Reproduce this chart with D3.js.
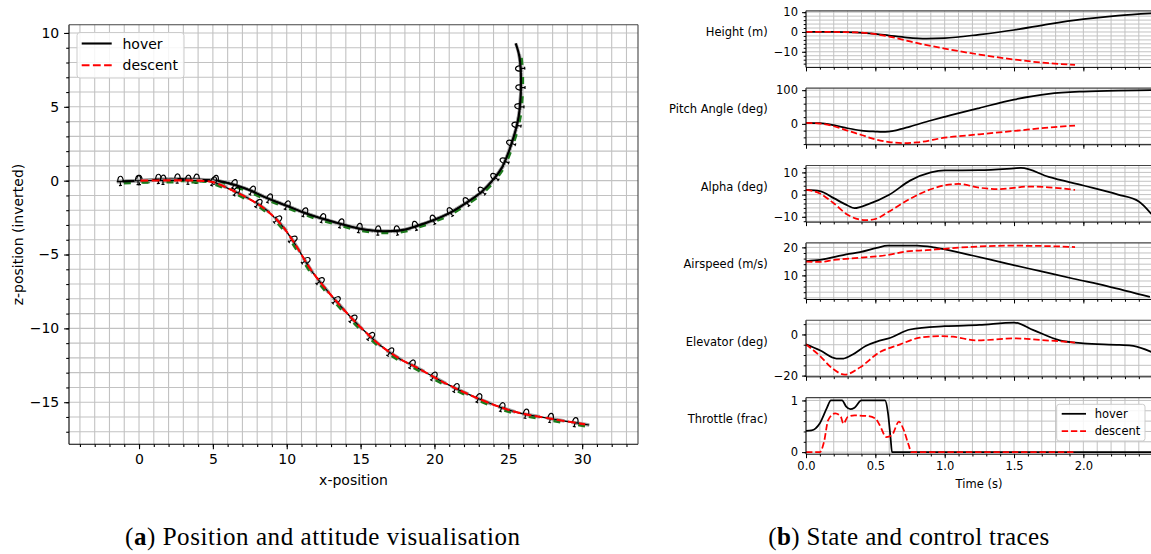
<!DOCTYPE html>
<html><head><meta charset="utf-8">
<script src="https://cdn.jsdelivr.net/npm/d3@7/dist/d3.min.js"></script>
<style>
body{margin:0;background:#fff}
svg{display:block}
text{font-family:"DejaVu Sans",sans-serif;fill:#000}
</style>
</head><body>
<svg id="c" width="1151" height="554"></svg>
<script>
// ---------------- DATA ----------------
const seriesNames = ["hover", "descent"];

// trajectory (x-position, z-position inverted)
const hoverPath = [[-1.1,-0.05],[0,0.0],[2,0.1],[4,0.08],[5.5,-0.05],[6.5,-0.3],[7.5,-0.65],[8.6,-1.15],[10,-1.7],[11,-2.1],[12,-2.45],[13.2,-2.8],[14.5,-3.15],[15.5,-3.34],[16.5,-3.42],[17.8,-3.35],[18.7,-3.1],[20,-2.65],[21,-2.2],[22,-1.6],[23.2,-0.75],[24,0.1],[24.6,0.95],[25.3,2.76],[25.7,4.34],[25.86,6.6],[25.75,8.4],[25.5,9.3]];
const descentPath = [[0.1,0.0],[2,0.02],[4,0.0],[5,-0.1],[6.2,-0.6],[7.3,-1.15],[8.5,-1.9],[9.6,-2.95],[10.5,-4.2],[11.65,-6.05],[12.7,-7.4],[13.9,-8.77],[15.07,-10.0],[16.4,-11.2],[17.8,-12.15],[18.7,-12.6],[21,-13.85],[23.25,-14.87],[25.5,-15.66],[27.8,-16.1],[30.2,-16.5]];

// time traces: [time (s), value]
const heightHover = [[0,0],[0.2,0],[0.35,-0.2],[0.5,-1.0],[0.6,-1.8],[0.73,-2.8],[0.87,-3.3],[1.0,-3.1],[1.25,-1.3],[1.5,1.0],[1.75,4.0],[2.0,6.5],[2.25,8.3],[2.49,9.4]];
const heightDescent = [[0,0],[0.2,0],[0.35,-0.2],[0.45,-0.6],[0.5,-1.1],[0.6,-2.3],[0.75,-4.8],[1.0,-8.4],[1.25,-11.4],[1.5,-13.9],[1.75,-15.8],[1.94,-16.6]];
const pitchHover = [[0,3],[0.1,2],[0.2,-4],[0.3,-13],[0.4,-20],[0.5,-23],[0.55,-24],[0.65,-19],[0.75,-8],[0.9,10],[1.0,21],[1.25,47],[1.5,72],[1.75,89],[2.0,96],[2.25,99],[2.49,100]];
const pitchDescent = [[0,3],[0.1,1],[0.2,-7],[0.3,-20],[0.4,-33],[0.5,-46],[0.6,-54],[0.7,-57],[0.8,-55],[1.0,-41],[1.25,-31],[1.5,-21],[1.75,-11],[1.94,-5]];
const alphaHover = [[0,2.1],[0.1,1.6],[0.2,-1.6],[0.3,-4.9],[0.35,-6.1],[0.45,-4.3],[0.6,-0.1],[0.75,6.3],[0.9,10],[1.0,10.9],[1.25,11.0],[1.5,11.8],[1.55,12],[1.75,8],[2.0,4.1],[2.25,0.0],[2.4,-3.1],[2.49,-8.7]];
const alphaDescent = [[0,2.1],[0.1,0.5],[0.2,-3.9],[0.3,-9.1],[0.43,-11.5],[0.5,-11],[0.6,-7.6],[0.75,-1.9],[0.9,2.4],[1.0,4.2],[1.1,4.8],[1.25,3.1],[1.4,2.5],[1.6,3.6],[1.75,3.3],[1.94,2.1]];
const airspeedHover = [[0,15.1],[0.1,15.5],[0.2,16.5],[0.29,17.5],[0.39,18.3],[0.51,19.8],[0.59,20.6],[0.8,20.6],[0.92,20.0],[1.0,19.3],[1.2,17.1],[1.45,14.2],[1.69,11.5],[1.93,8.8],[2.17,6.2],[2.48,2.3]];
const airspeedDescent = [[0,14.9],[0.1,14.8],[0.2,15.5],[0.39,16.3],[0.59,17.3],[0.72,18.5],[0.87,19.0],[1.0,19.5],[1.2,20.2],[1.45,20.6],[1.69,20.5],[1.94,20.1]];
const elevatorHover = [[0,-4.8],[0.1,-7.7],[0.22,-11.7],[0.27,-11.7],[0.34,-9.6],[0.43,-5.6],[0.51,-3.5],[0.61,-1.6],[0.75,2.4],[1.0,4.0],[1.25,4.6],[1.5,5.8],[1.64,2.1],[1.83,-2.9],[2.0,-4.3],[2.26,-5.1],[2.36,-5.6],[2.49,-8.5]];
const elevatorDescent = [[0,-4.8],[0.1,-10.4],[0.19,-16.5],[0.28,-19.5],[0.39,-16],[0.52,-9.1],[0.68,-4.8],[0.82,-1.6],[0.97,-0.8],[1.06,-1.1],[1.23,-2.9],[1.5,-1.9],[1.69,-2.7],[1.9,-3.7],[1.94,-4.0]];
const throttleHover = [[0,0.41],[0.04,0.42],[0.1,0.56],[0.15,0.85],[0.18,1.0],[0.26,1.0],[0.29,0.88],[0.32,0.83],[0.35,0.86],[0.4,1.0],[0.57,1.0],[0.59,0.78],[0.61,0.27],[0.62,0],[2.495,0]];
const throttleDescent = [[0,0],[0.1,0],[0.13,0.2],[0.16,0.62],[0.21,0.75],[0.25,0.69],[0.27,0.55],[0.3,0.68],[0.35,0.71],[0.44,0.7],[0.5,0.65],[0.53,0.53],[0.58,0.29],[0.62,0.33],[0.67,0.59],[0.7,0.46],[0.74,0.14],[0.76,0],[1.94,0]];

// tick labels
const posXTicks = [0,5,10,15,20,25,30];
const posYTicks = [-15,-10,-5,0,5,10];
const timeTicks = [0,0.5,1.0,1.5,2.0];
const heightTicks = [-10,0,10];
const pitchTicks = [0,100];
const alphaTicks = [-10,0,10];
const airspeedTicks = [10,20];
const elevatorTicks = [-20,0];
const throttleTicks = [0,1];
const panelLabels = ["Height (m)","Pitch Angle (deg)","Alpha (deg)","Airspeed (m/s)","Elevator (deg)","Throttle (frac)"];
const captionA = ["(", "a", ") Position and attitude visualisation"];
const captionB = ["(", "b", ") State and control traces"];

// ---------------- DRAW ----------------
const svg = d3.select("#c");
const fmt = v => (v < 0 ? "\u2212" : "") + Math.abs(v);
const GRID = "#c2c2c2";
const RED = "#ff0000";

// ===== LEFT PLOT =====
const L = {l:69, r:638, t:24.7, b:444.3};
const xs = d3.scaleLinear().domain([-4.74, 33.78]).range([L.l, L.r]);
const zs = d3.scaleLinear().domain([-17.85, 10.56]).range([L.b, L.t]);
const left = svg.append("g");
svg.append("defs").append("clipPath").attr("id","clipL").append("rect")
  .attr("x",L.l).attr("y",L.t).attr("width",L.r-L.l).attr("height",L.b-L.t);

const xMinor = d3.range(-4, 34).filter(v => xs(v) >= L.l && xs(v) <= L.r);
const zMinor = d3.range(-17, 11).filter(v => zs(v) >= L.t && zs(v) <= L.b);
const gridL = left.append("g");
gridL.selectAll(".gx").data(xMinor).join("line")
  .attr("x1",d=>xs(d)).attr("x2",d=>xs(d)).attr("y1",L.t).attr("y2",L.b)
  .attr("stroke",GRID).attr("stroke-width",1.1);
gridL.selectAll(".gz").data(zMinor).join("line")
  .attr("y1",d=>zs(d)).attr("y2",d=>zs(d)).attr("x1",L.l).attr("x2",L.r)
  .attr("stroke",GRID).attr("stroke-width",1.1);

// axes
const axX = left.append("g").attr("transform",`translate(0,${L.b})`)
  .call(d3.axisBottom(xs).tickValues(posXTicks).tickFormat(fmt).tickSize(4.9).tickPadding(4.9));
const axXm = left.append("g").attr("transform",`translate(0,${L.b})`)
  .call(d3.axisBottom(xs).tickValues(xMinor).tickFormat("").tickSize(2.8));
const axY = left.append("g").attr("transform",`translate(${L.l},0)`)
  .call(d3.axisLeft(zs).tickValues(posYTicks).tickFormat(fmt).tickSize(4.9).tickPadding(4.9));
const axYm = left.append("g").attr("transform",`translate(${L.l},0)`)
  .call(d3.axisLeft(zs).tickValues(zMinor).tickFormat("").tickSize(2.8));
[axX,axXm,axY,axYm].forEach(a=>{
  a.select(".domain").remove();
  a.selectAll("line").attr("stroke","#000").attr("stroke-width",1.1);
  a.selectAll("text").style("font-size","14px").style("font-family","DejaVu Sans");
});

// trajectories
const lineL = d3.line().x(d=>xs(d[0])).y(d=>zs(d[1])).curve(d3.curveCatmullRom.alpha(0.5));
const trajG = left.append("g").attr("clip-path","url(#clipL)");

function glyphs(pathNode, spacing, g){
  const len = pathNode.getTotalLength();
  for (let s = 3; s < len - 2; s += spacing){
    const p = pathNode.getPointAtLength(s);
    const q = pathNode.getPointAtLength(Math.min(len, s + 1.5));
    const ang = Math.atan2(q.y - p.y, q.x - p.x) * 180 / Math.PI;
    const gg = g.append("g").attr("transform",`translate(${p.x},${p.y}) rotate(${ang})`);
    gg.append("path").attr("d","M-9,0 L9,0").attr("stroke","#a0a0a0").attr("stroke-width",3.6).attr("fill","none");
    gg.append("path").attr("d","M-2,1.9 L5,1.9").attr("stroke","#1d7a1d").attr("stroke-width",2.4);
    gg.append("path").attr("d","M-9,0 L9,0 M-8,0 C-8,-7 -2.5,-7 -2.5,0 M-5.5,0 L-5.5,4 M-7,4 L-4,4")
      .attr("stroke","#000").attr("stroke-width",1.2).attr("fill","none");
  }
}
const hoverUnder = trajG.append("path").datum(hoverPath).attr("d",lineL)
  .attr("fill","none").attr("stroke","#aaaaaa").attr("stroke-width",3.4);
glyphs(hoverUnder.node(), 19, trajG);
trajG.append("path").datum(hoverPath).attr("d",lineL)
  .attr("fill","none").attr("stroke","#000").attr("stroke-width",2.1);
const descUnder = trajG.append("path").datum(descentPath).attr("d",lineL)
  .attr("fill","none").attr("stroke","#000").attr("stroke-width",1.4);
glyphs(descUnder.node(), 25, trajG);
trajG.append("path").datum(descentPath).attr("d",lineL)
  .attr("fill","none").attr("stroke",RED).attr("stroke-width",2.1).attr("stroke-dasharray","7.8,3.4");

// spines
left.append("line").attr("x1",L.l).attr("x2",L.l).attr("y1",L.t).attr("y2",L.b).attr("stroke","#000").attr("stroke-width",1.1);
left.append("line").attr("x1",L.l).attr("x2",L.r).attr("y1",L.b).attr("y2",L.b).attr("stroke","#000").attr("stroke-width",1.1);
left.append("line").attr("x1",L.l).attr("x2",L.r).attr("y1",L.t).attr("y2",L.t).attr("stroke","#444").attr("stroke-width",1.1);
left.append("line").attr("x1",L.r).attr("x2",L.r).attr("y1",L.t).attr("y2",L.b).attr("stroke","#444").attr("stroke-width",1.1);

// labels
left.append("text").attr("x",(L.l+L.r)/2).attr("y",480).attr("text-anchor","middle")
  .attr("dominant-baseline","central").style("font-size","14px").text("x-position");
left.append("text").attr("transform",`translate(18,${(L.t+L.b)/2}) rotate(-90)`).attr("text-anchor","middle")
  .attr("dominant-baseline","central").style("font-size","14px").text("z-position (inverted)");

// legend
const lg = left.append("g");
lg.append("rect").attr("x",77).attr("y",32.5).attr("width",107).attr("height",45.5).attr("rx",3)
  .attr("fill","#fff").attr("fill-opacity",0.85).attr("stroke","#cccccc").attr("stroke-width",1);
const lgItems = [{n:seriesNames[0],c:"#000",d:null},{n:seriesNames[1],c:RED,d:"7.8,3.4"}];
lgItems.forEach((it,i)=>{
  const yy = 43.5 + i*21.7;
  lg.append("line").attr("x1",81.7).attr("x2",111.7).attr("y1",yy).attr("y2",yy)
    .attr("stroke",it.c).attr("stroke-width",2.1).attr("stroke-dasharray",it.d);
  lg.append("text").attr("x",122.5).attr("y",yy).attr("dominant-baseline","central")
    .style("font-size","14px").text(it.n);
});

// ===== RIGHT PANELS =====
const R = {l:806, r:1152};
const ts = d3.scaleLinear().domain([0, 2.495]).range([R.l, R.r]);
const tMinor = d3.range(0, 25).map(k => k/10);
const panels = [
  {h:heightHover, d:heightDescent, dom:[-17.9,10.7], ticks:heightTicks, minor:2},
  {h:pitchHover, d:pitchDescent, dom:[-62,106], ticks:pitchTicks, minor:20},
  {h:alphaHover, d:alphaDescent, dom:[-12.4,13.1], ticks:alphaTicks, minor:2},
  {h:airspeedHover, d:airspeedDescent, dom:[1.4,21.6], ticks:airspeedTicks, minor:2},
  {h:elevatorHover, d:elevatorDescent, dom:[-20.6,6.9], ticks:elevatorTicks, minor:5},
  {h:throttleHover, d:throttleDescent, dom:[-0.04,1.055], ticks:throttleTicks, minor:0.2}
];
const PH = 56.6, PS = 77.36, P0 = 10.8;
panels.forEach((p, i) => {
  const top = P0 + i*PS, bot = top + PH;
  const y = d3.scaleLinear().domain(p.dom).range([bot, top]);
  const g = svg.append("g");
  const cid = "clipP" + i;
  svg.select("defs").append("clipPath").attr("id",cid).append("rect")
    .attr("x",R.l).attr("y",top).attr("width",R.r-R.l).attr("height",PH);
  const k0 = Math.ceil(p.dom[0]/p.minor - 1e-9), k1 = Math.floor(p.dom[1]/p.minor + 1e-9);
  const yMinor = d3.range(k0, k1+1).map(k => +(k*p.minor).toFixed(6));
  g.selectAll(".gy").data(yMinor).join("line")
    .attr("x1",R.l).attr("x2",R.r).attr("y1",d=>y(d)).attr("y2",d=>y(d))
    .attr("stroke",GRID).attr("stroke-width",1);
  g.selectAll(".gt").data(tMinor).join("line")
    .attr("x1",d=>ts(d)).attr("x2",d=>ts(d)).attr("y1",top).attr("y2",bot)
    .attr("stroke",GRID).attr("stroke-width",1);

  const ay = g.append("g").attr("transform",`translate(${R.l},0)`)
    .call(d3.axisLeft(y).tickValues(p.ticks).tickFormat(fmt).tickSize(4).tickPadding(4));
  const aym = g.append("g").attr("transform",`translate(${R.l},0)`)
    .call(d3.axisLeft(y).tickValues(yMinor).tickFormat("").tickSize(2.3));
  const at = g.append("g").attr("transform",`translate(0,${bot})`)
    .call(d3.axisBottom(ts).tickValues(timeTicks).tickFormat(i===5 ? d3.format(".1f") : "").tickSize(4).tickPadding(4));
  const atm = g.append("g").attr("transform",`translate(0,${bot})`)
    .call(d3.axisBottom(ts).tickValues(tMinor).tickFormat("").tickSize(2.3));
  [ay,aym,at,atm].forEach(a=>{
    a.select(".domain").remove();
    a.selectAll("line").attr("stroke","#000").attr("stroke-width",1);
    a.selectAll("text").style("font-size","11.5px").style("font-family","DejaVu Sans");
  });

  const ln = d3.line().x(d=>ts(d[0])).y(d=>y(d[1])).curve(d3.curveMonotoneX);
  const cg = g.append("g").attr("clip-path",`url(#${cid})`);
  cg.append("path").datum(p.h).attr("d",ln).attr("fill","none").attr("stroke","#000").attr("stroke-width",1.75);
  cg.append("path").datum(p.d).attr("d",ln).attr("fill","none").attr("stroke",RED)
    .attr("stroke-width",1.75).attr("stroke-dasharray","6.4,2.8");

  // spines
  g.append("line").attr("x1",R.l).attr("x2",R.l).attr("y1",top).attr("y2",bot).attr("stroke","#000").attr("stroke-width",1);
  g.append("line").attr("x1",R.l).attr("x2",R.r).attr("y1",bot).attr("y2",bot).attr("stroke","#000").attr("stroke-width",1);
  g.append("line").attr("x1",R.l).attr("x2",R.r).attr("y1",top).attr("y2",top).attr("stroke","#444").attr("stroke-width",1.2);

  g.append("text").attr("x",767.7).attr("y",(top+bot)/2 - 3).attr("text-anchor","end")
    .style("font-size","11.5px").text(panelLabels[i]);
});
svg.append("text").attr("x",(R.l+R.r)/2).attr("y",484).attr("text-anchor","middle")
  .attr("dominant-baseline","central").style("font-size","11.5px").text("Time (s)");

// right legend
const rl = svg.append("g");
rl.append("rect").attr("x",1056.7).attr("y",404.3).attr("width",88.3).attr("height",36.7).attr("rx",2.5)
  .attr("fill","#fff").attr("fill-opacity",0.85).attr("stroke","#cccccc").attr("stroke-width",1);
lgItems.forEach((it,i)=>{
  const yy = 413.8 + i*17.2;
  rl.append("line").attr("x1",1061.7).attr("x2",1086).attr("y1",yy).attr("y2",yy)
    .attr("stroke",it.c).attr("stroke-width",1.75).attr("stroke-dasharray",it.d ? "6.4,2.8" : null);
  rl.append("text").attr("x",1094.7).attr("y",yy).attr("dominant-baseline","central")
    .style("font-size","11.5px").text(it.n);
});

// captions
function caption(parts, cx, width){
  const t = svg.append("text").attr("x",cx).attr("y",545).attr("text-anchor","middle")
    .attr("textLength",width).attr("lengthAdjust","spacing")
    .style("font-family","'Liberation Serif','DejaVu Serif',serif").style("font-size","25px");
  t.append("tspan").text(parts[0]);
  t.append("tspan").style("font-weight","bold").text(parts[1]);
  t.append("tspan").text(parts[2]);
}
caption(captionA, 322.5, 395);
caption(captionB, 908.8, 281);
</script>
</body></html>
